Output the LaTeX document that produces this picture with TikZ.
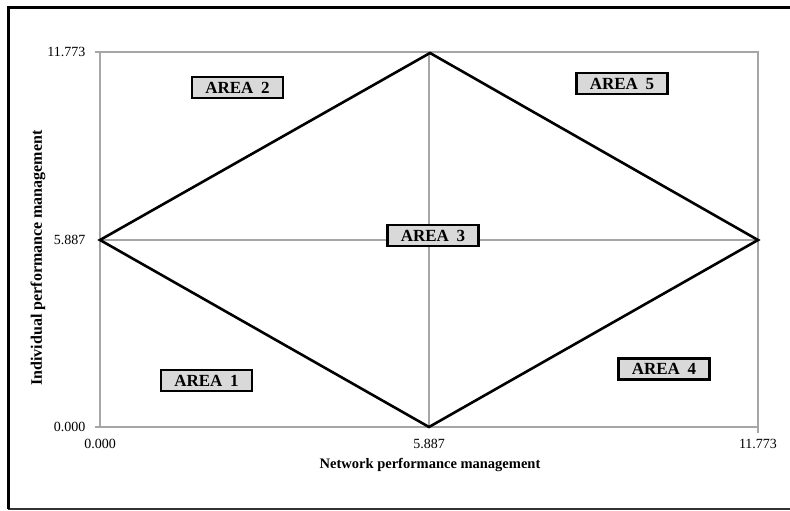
\documentclass[tikz,border=0pt]{standalone}
\usepackage{fontspec}
\setmainfont{Liberation Serif}
\begin{document}
\begin{tikzpicture}[x=1pt,y=-1pt,
  grid/.style={draw=gray!70,line width=1.3pt},
  diam/.style={draw=black,line width=2.6pt,line join=miter},
  areabox/.style={draw=black,line width=2.6pt,fill=black!15,font=\fontsize{17}{19}\selectfont\bfseries,minimum width=91pt,minimum height=21pt,inner sep=0pt},
  tick/.style={font=\fontsize{14}{16}\selectfont},
  axtitle/.style={font=\fontsize{14.5}{16}\selectfont\bfseries}]
\useasboundingbox (0,0) rectangle (790,511);
% outer frame
\draw[black!80,line width=1.5pt] (8,509) -- (795,509);
\draw[black,line width=3pt] (8,509) -- (8,8) -- (795,8);
% plot area
\coordinate (PL) at (100,427);
\coordinate (PT) at (100,52);
\coordinate (PR) at (758,427);
\coordinate (PTR) at (758,52);
\draw[grid] (PT) -- (PTR) -- (PR) -- (PL) -- cycle;
% ticks
\draw[grid] (95,52) -- (PT);
\draw[grid] (95,427) -- (PL);
\draw[grid] (758,427) -- (758,433);
% gridlines
\coordinate (GL) at (100,240);
\coordinate (GR) at (758,240);
\coordinate (GT) at (429,52);
\coordinate (GB) at (429,427);
\draw[grid] (GL) -- (GR);
\draw[grid] (GT) -- (GB);
% diamond
\coordinate (L) at (100,240);
\coordinate (T) at (430,53);
\coordinate (R) at (758,240);
\coordinate (B) at (429,427);
\draw[diam] (L) -- (T) -- (R) -- (B) -- cycle;
% y tick labels
\node[tick,anchor=east] (y1) at (89,52) {11.773};
\node[tick,anchor=east] (y2) at (89,240) {5.887};
\node[tick,anchor=east] (y0) at (89,427) {0.000};
% x tick labels
\node[tick] (x0) at (100,444) {0.000};
\node[tick] (x2) at (429,444) {5.887};
\node[tick] (x1) at (758,444) {11.773};
% axis titles
\node[axtitle] (xt) at (430,465) {Network performance management};
\node[axtitle,rotate=90,font=\fontsize{16}{18}\selectfont\bfseries] (yt) at (38,258) {Individual performance management};
% areas
\node[areabox] (a2) at (237.5,87.5) {AREA\hspace{0.45em}2};
\node[areabox] (a3) at (433,235.5) {AREA\hspace{0.45em}3};
\node[areabox] (a5) at (622,83.5) {AREA\hspace{0.45em}5};
\node[areabox] (a1) at (206.5,380.5) {AREA\hspace{0.45em}1};
\node[areabox] (a4) at (664,369) {AREA\hspace{0.45em}4};
\end{tikzpicture}
\end{document}
